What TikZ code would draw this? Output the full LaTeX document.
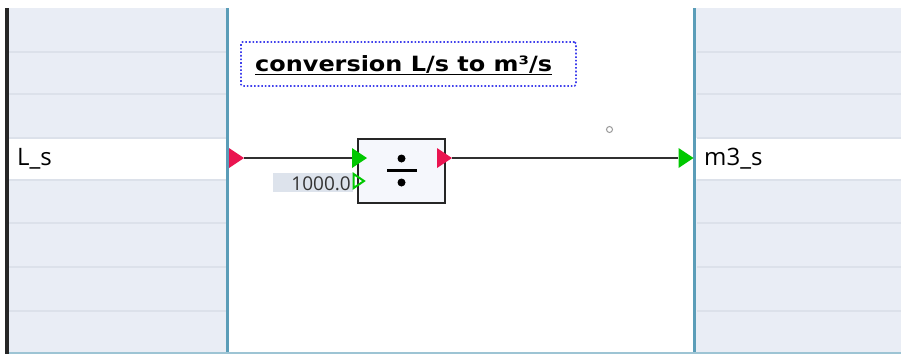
\documentclass[tikz,border=0pt]{standalone}
\usepackage{fontspec}
\setmainfont{Open Sans}
\newfontfamily\titlefont[FakeStretch=1.14]{DejaVu Sans}
\begin{document}
\begin{tikzpicture}[x=1pt,y=-1pt,
  rowline/.style={draw=rowc,line width=1.2pt},
  sep/.style={draw=sepc,line width=2.5pt},
  port/.style={inner sep=0pt,minimum width=15pt,minimum height=20pt},
  redport/.style={port,path picture={\fill[portred] (path picture bounding box.north west) -- (path picture bounding box.east) -- (path picture bounding box.south west) -- cycle;}},
  greenport/.style={port,path picture={\fill[portgreen] (path picture bounding box.north west) -- (path picture bounding box.east) -- (path picture bounding box.south west) -- cycle;}},
  hollowport/.style={inner sep=0pt,minimum width=13pt,minimum height=18pt,path picture={\draw[portgreen,line width=2pt] ([shift={(1.2pt,-2pt)}]path picture bounding box.north west) -- ([xshift=-1.5pt]path picture bounding box.east) -- ([shift={(1.2pt,2pt)}]path picture bounding box.south west) -- cycle;}},
  wire/.style={draw=wirec,line width=1.3pt},
  varlabel/.style={anchor=west,inner sep=0pt,font=\fontsize{24}{28}\selectfont,text=black},
]
\definecolor{panelc}{HTML}{E9EDF5}
\definecolor{rowc}{HTML}{DCE1EA}
\definecolor{sepc}{HTML}{5B9DB8}
\definecolor{portred}{HTML}{EA1450}
\definecolor{portgreen}{HTML}{00C800}
\definecolor{wirec}{HTML}{303030}
\definecolor{blockfill}{HTML}{F5F7FC}
\definecolor{constbg}{HTML}{DDE3EC}
\definecolor{titleblue}{HTML}{4040EC}
\useasboundingbox (0,0) rectangle (901,354);
\fill[white] (0,0) rectangle (901,354);
% side panels
\fill[panelc] (9,8) rectangle (227,354);
\fill[panelc] (695,8) rectangle (901,354);
\fill[white] (9,138) rectangle (227,179);
\fill[white] (695,138) rectangle (901,179);
\foreach \yy in {52,94,138,180,223,267,311}{
  \draw[rowline] (9,\yy) -- (227,\yy);
  \draw[rowline] (697,\yy) -- (901,\yy);
}
\fill[black!85] (5,8) rectangle (9,354);
\draw[sep] (227.5,8) -- (227.5,354);
\draw[sep] (694.5,8) -- (694.5,354);
\draw[draw=sepc!60,line width=1.5pt] (9,353) -- (901,353);
% title
\node[draw=titleblue,dotted,line width=1.6pt,rounded corners=1.5pt,minimum width=335pt,minimum height=44pt,inner sep=0pt] (title) at (408.5,64) {};
\node[inner sep=0pt,anchor=base west,font=\titlefont\bfseries\fontsize{21}{24}\selectfont] (titletext) at (255,71) {conversion L/s to m³/s};
\draw[black,line width=1.6pt] (titletext.west |- 0,74.5) -- (titletext.east |- 0,74.5);
% variables
\node[varlabel] (ls) at (17,159) {L\_s};
\node[varlabel] (m3s) at (704,159) {m3\_s};
% block
\node[draw=black!85,line width=2pt,fill=blockfill,minimum width=87pt,minimum height=64pt,inner sep=0pt] (div) at (401.5,170.5) {};
\fill[black] ([yshift=-12pt]div.center) circle (4pt);
\fill[black] ([yshift=12pt]div.center) circle (4pt);
\fill[black] ([xshift=-15pt,yshift=-1.7pt]div.center) rectangle ([xshift=15pt,yshift=1.7pt]div.center);
% const
\node[fill=constbg,minimum width=80pt,minimum height=19pt,inner sep=0pt] (constbox) at (313,182.5) {};
\node[anchor=east,inner sep=0pt,font=\fontsize{19}{22}\selectfont,text=black!80] (constval) at (351,183.5) {1000.0};
% ports
\node[redport] (inL) at (236.5,158) {};
\node[greenport] (d1) at (359.5,158) {};
\node[hollowport] (d2) at (359,181) {};
\node[redport] (dout) at (444.5,158) {};
\node[greenport] (outR) at (686,158) {};
\draw[wire] (inL.east) -- (d1.west);
\draw[wire] (dout.east) -- (outR.west);
% small circle
\node[draw=black!40,line width=1pt,circle,minimum size=6pt,inner sep=0pt] (handle) at (609.5,129.5) {};
\end{tikzpicture}
\end{document}
